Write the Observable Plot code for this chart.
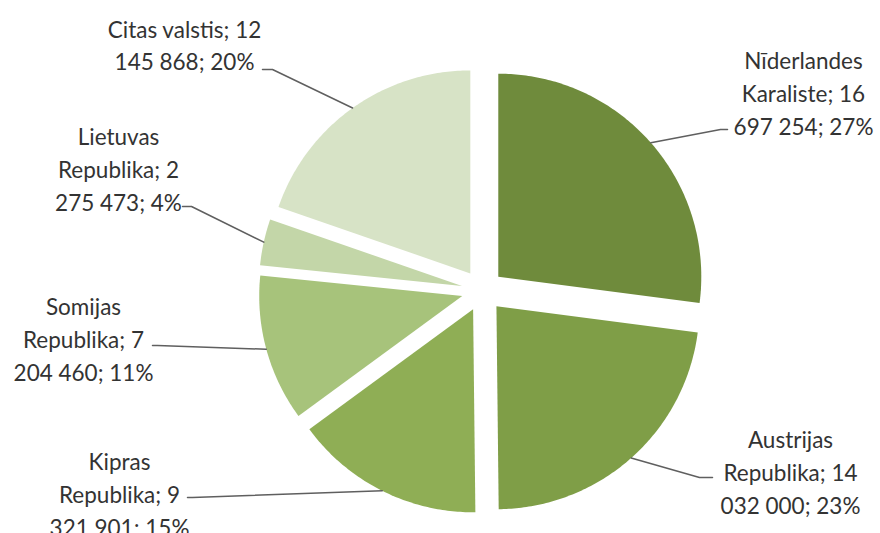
<!DOCTYPE html>
<html>
<head>
<meta charset="utf-8">
<script src="https://cdn.jsdelivr.net/npm/d3@7"></script>
<script src="https://cdn.jsdelivr.net/npm/@observablehq/plot@0.6"></script>
<style>
  html, body { margin: 0; padding: 0; background: #fff; }
  #chart svg { display: block; }
</style>
</head>
<body>
<div id="chart"></div>
<script>
// ---- data ----
const countries = ["Nīderlandes Karaliste", "Austrijas Republika", "Kipras Republika", "Somijas Republika", "Lietuvas Republika", "Citas valstis"];
const values = [16697254, 14032000, 9321901, 7204460, 2275473, 12145868];
const labelTexts = [
  "Nīderlandes\nKaraliste; 16\n697 254; 27%",
  "Austrijas\nRepublika; 14\n032 000; 23%",
  "Kipras\nRepublika; 9\n321 901; 15%",
  "Somijas\nRepublika; 7\n204 460; 11%",
  "Lietuvas\nRepublika; 2\n275 473; 4%",
  "Citas valstis; 12\n145 868; 20%"
];
const colors = ["#6f8b3c", "#7f9e47", "#8fae55", "#a7c37b", "#c3d6a8", "#d7e3c6"];

// ---- layout (canvas units, y down) ----
const W = 880, H = 533;
const cx = 482, cy = 290, R = 203, explode = 21;
// label block centres and leader elbow/end points
const labelCenter = [[803, 91], [790, 470], [119, 492], [83, 337], [118, 167], [184, 43]];
const leaderElbow = [[720, 129], [699, 477], [192, 497], [157, 345], [191, 206], [272, 69]];
const leaderEnd   = [[727, 129], [712, 477], [187, 497], [152, 345], [182, 206], [262, 69]];

const arcs = d3.pie().sort(null).value(d => d)(values);

const slicePts = [];
const leaderPts = [];
arcs.forEach((a, i) => {
  const mid = (a.startAngle + a.endAngle) / 2;
  const ox = cx + explode * Math.sin(mid);
  const oy = cy - explode * Math.cos(mid);
  slicePts.push({country: countries[i], x: ox, y: oy});
  const n = Math.max(8, Math.ceil((a.endAngle - a.startAngle) * 80));
  for (let k = 0; k <= n; k++) {
    const t = a.startAngle + (a.endAngle - a.startAngle) * k / n;
    slicePts.push({country: countries[i], x: ox + R * Math.sin(t), y: oy - R * Math.cos(t)});
  }
  slicePts.push({country: countries[i], x: ox, y: oy});
  leaderPts.push({country: countries[i], x: ox + R * Math.sin(mid), y: oy - R * Math.cos(mid)});
  leaderPts.push({country: countries[i], x: leaderElbow[i][0], y: leaderElbow[i][1]});
  leaderPts.push({country: countries[i], x: leaderEnd[i][0], y: leaderEnd[i][1]});
});

const labelData = countries.map((c, i) => ({country: c, text: labelTexts[i], x: labelCenter[i][0], y: labelCenter[i][1]}));

const chart = Plot.plot({
  width: W,
  height: H,
  margin: 0,
  x: {domain: [0, W], range: [0, W], axis: null},
  y: {domain: [0, H], range: [0, H], axis: null},
  color: {domain: countries, range: colors},
  style: {background: "#fff"},
  marks: [
    Plot.line(slicePts, {x: "x", y: "y", z: "country", fill: "country", stroke: "none", curve: "linear"}),
    Plot.line(leaderPts, {x: "x", y: "y", z: "country", stroke: "#5f5f5f", strokeWidth: 1.5}),
    Plot.text(labelData, {
      x: "x", y: "y", text: "text",
      textAnchor: "middle", lineAnchor: "middle",
      lineHeight: 1.45,
      fontSize: 22.5,
      fontFamily: "Lato, 'Open Sans', sans-serif",
      fill: "#333333"
    })
  ]
});
document.getElementById("chart").appendChild(chart);
</script>
</body>
</html>
